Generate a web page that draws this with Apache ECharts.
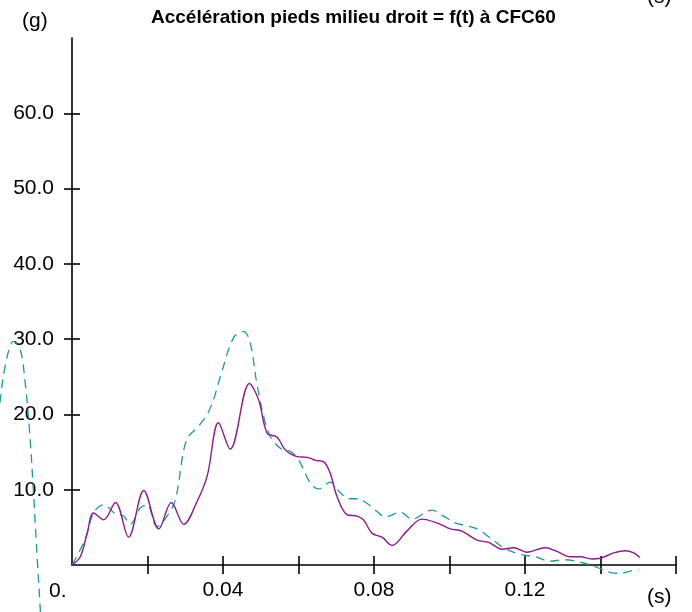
<!DOCTYPE html>
<html>
<head>
<meta charset="utf-8">
<title>Accélération pieds milieu droit</title>
<script src="https://cdn.jsdelivr.net/npm/echarts@6/dist/echarts.min.js"></script>
<style>
  html, body { margin: 0; padding: 0; background: #fff; }
  #chart { width: 692px; height: 612px; }
</style>
</head>
<body>
<div id="chart"></div>
<script>
// time (s) of each sample, values in g
var tSolid = [0, 0.0022, 0.004, 0.0057, 0.0084, 0.0115, 0.015, 0.019, 0.023, 0.0263, 0.0296, 0.0331,
  0.0358, 0.0388, 0.0419, 0.047, 0.0494, 0.0517, 0.0543, 0.0565, 0.0596, 0.0623, 0.0645, 0.0667,
  0.0684, 0.0702, 0.0728, 0.0755, 0.0772, 0.0795, 0.0821, 0.0848, 0.0887, 0.0927, 0.0971, 0.1002,
  0.1033, 0.1073, 0.1104, 0.1139, 0.117, 0.1205, 0.1254, 0.1285, 0.132, 0.1347, 0.1377, 0.14,
  0.1435, 0.1466, 0.1488, 0.1504];
var vSolid = [0, 1.1, 4.2, 6.9, 6.0, 8.3, 3.7, 9.9, 4.8, 8.3, 5.4, 8.4,
  11.8, 18.9, 15.4, 24.1, 22.0, 17.5, 17.0, 15.3, 14.4, 14.3, 13.9, 13.7,
  12.2, 9.1, 6.7, 6.5, 6.0, 4.2, 3.7, 2.6, 4.5, 6.1, 5.5, 4.8,
  4.5, 3.3, 3.0, 2.1, 2.3, 1.7, 2.3, 1.8, 1.1, 1.1, 0.8, 0.9,
  1.6, 1.9, 1.6, 1.0];

var tDash = [0, 0.0035, 0.0057, 0.0084, 0.0115, 0.0137, 0.0154, 0.0181, 0.0199, 0.0225, 0.0252, 0.0274,
  0.0296, 0.0309, 0.0331, 0.0358, 0.0375, 0.0393, 0.0428, 0.0455, 0.0472, 0.049, 0.0508, 0.0525,
  0.0552, 0.0578, 0.06, 0.0631, 0.0653, 0.0684, 0.0711, 0.0733, 0.0755, 0.0781, 0.0808, 0.083,
  0.087, 0.0901, 0.0954, 0.0984, 0.1015, 0.1046, 0.1077, 0.1108, 0.1143, 0.1188, 0.1227, 0.1267,
  0.1302, 0.136, 0.1395, 0.1426, 0.1452, 0.1479, 0.1501];
var vDash = [0, 3.4, 6.9, 8.0, 6.8, 6.5, 5.4, 7.6, 8.0, 5.1, 6.5, 8.7,
  15.3, 17.1, 18.2, 20.0, 22.0, 25.0, 30.2, 31.0, 29.5, 24.0, 19.7, 17.1,
  15.5, 15.1, 14.0, 10.9, 10.1, 11.0, 9.6, 8.8, 8.8, 8.2, 7.1, 6.4,
  7.0, 6.1, 7.3, 6.5, 5.6, 5.2, 4.7, 3.6, 2.3, 1.4, 1.1, 0.5,
  0.7, 0.2, -0.4, -1.0, -1.1, -0.8, -0.6];

// stray piece of the dashed trace drawn left of the frame (negative time)
var tStray = [-0.0191, -0.019, -0.0177, -0.0155, -0.0137, -0.0124, -0.0112, -0.0102, -0.0093, -0.0084, -0.0078];
var vStray = [21.5, 22.0, 26.4, 29.7, 28.6, 24.2, 17.5, 9.6, 1.6, -5.9, -12];

var yTicks = [10, 20, 30, 40, 50, 60];
var xLabels = [0.04, 0.08, 0.12];
var xTicks = [0.02, 0.04, 0.06, 0.08, 0.10, 0.12, 0.14, 0.16];

function pairs(t, v) {
  var out = [];
  for (var i = 0; i < t.length; i++) out.push([t[i], v[i]]);
  return out;
}

var font = 'Liberation Sans, Arial, sans-serif';
var purple = '#8e1a8e';
var teal = '#1f9a9a';
var tickStyle = { color: '#000', width: 1.6 };

var chart = echarts.init(document.getElementById('chart'));

var xBase = { type: 'value', gridIndex: 0, min: 0, max: 0.16, interval: 0.02, splitLine: { show: false } };
var yBase = { type: 'value', gridIndex: 0, min: 0, max: 70, interval: 10, splitLine: { show: false } };

var option = {
  animation: false,
  backgroundColor: '#fff',
  title: {
    text: 'Accélération pieds milieu droit = f(t) à CFC60',
    left: 151, top: 8, padding: 0,
    textStyle: { fontFamily: font, fontWeight: 'bold', fontSize: 19, color: '#000' }
  },
  grid: [
    { left: 72, right: 16, top: 38, bottom: 47 },
    // strip left of the y axis, same scale, for the negative-time part
    { left: 0, width: 72, top: 38, bottom: 47 }
  ],
  xAxis: [
    Object.assign({}, xBase, {
      axisLine: { lineStyle: tickStyle },
      axisTick: { length: 9, customValues: xTicks, lineStyle: tickStyle },
      axisLabel: {
        customValues: xLabels, margin: 15, color: '#000', fontFamily: font, fontSize: 21,
        formatter: function (v) { return (+v).toFixed(2); }
      }
    }),
    Object.assign({}, xBase, {
      position: 'bottom',
      axisLine: { show: false },
      axisTick: { inside: true, length: 9, customValues: xTicks, lineStyle: tickStyle },
      axisLabel: { show: false }
    }),
    { type: 'value', gridIndex: 1, min: -72 / 3775, max: 0, show: false }
  ],
  yAxis: [
    Object.assign({}, yBase, {
      axisLine: { show: true, lineStyle: tickStyle },
      axisTick: { show: true, length: 8, customValues: yTicks, lineStyle: tickStyle },
      axisLabel: {
        customValues: yTicks, margin: 18, color: '#000', fontFamily: font, fontSize: 21,
        formatter: function (v) { return (+v).toFixed(1); }
      }
    }),
    Object.assign({}, yBase, {
      position: 'left',
      axisLine: { show: false },
      axisTick: { show: true, inside: true, length: 8, customValues: yTicks, lineStyle: tickStyle },
      axisLabel: { show: false }
    }),
    { type: 'value', gridIndex: 1, min: 0, max: 70, show: false }
  ],
  graphic: [
    { type: 'text', left: 22, top: 11, style: { text: '(g)', fontFamily: font, fontSize: 21, fill: '#000' } },
    { type: 'text', left: 49, top: 581, style: { text: '0.', fontFamily: font, fontSize: 21, fill: '#000' } },
    { type: 'text', left: 647, top: 587, style: { text: '(s)', fontFamily: font, fontSize: 21, fill: '#000' } },
    { type: 'text', left: 647, top: -13, style: { text: '(s)', fontFamily: font, fontSize: 21, fill: '#000' } }
  ],
  series: [
    {
      type: 'line', name: 'droit', data: pairs(tSolid, vSolid), showSymbol: false, smooth: 0.35, clip: false,
      lineStyle: { color: purple, width: 1.4 }, z: 3
    },
    {
      type: 'line', name: 'dash', data: pairs(tDash, vDash), showSymbol: false, smooth: 0.35, clip: false,
      lineStyle: { color: teal, width: 1.3, type: [9, 6] }, z: 2
    },
    {
      type: 'line', name: 'stray', xAxisIndex: 2, yAxisIndex: 2,
      data: pairs(tStray, vStray), showSymbol: false, smooth: 0.35, clip: false,
      lineStyle: { color: teal, width: 1.3, type: [9, 6] }, z: 2
    }
  ]
};

chart.setOption(option);
</script>
</body>
</html>
